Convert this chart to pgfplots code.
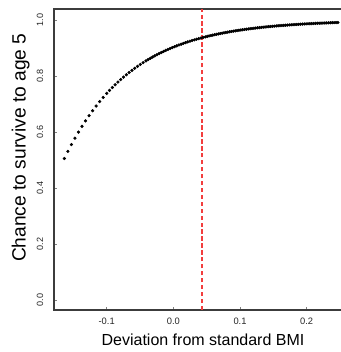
\documentclass[border=0pt]{standalone}
\usepackage{fontspec}
\setmainfont{Liberation Sans}
\usepackage{pgfplots}
\pgfplotsset{compat=1.18}
\definecolor{axgray}{RGB}{60,60,60}
\definecolor{dashred}{RGB}{242,62,62}
\begin{document}
\begin{tikzpicture}
\begin{axis}[
  scale only axis,
  width=223.5pt, height=225.75pt,
  xmin=-0.179, xmax=0.268,
  ymin=-0.035, ymax=1.04,
  axis line style={axgray, line width=0.8pt},
  tick align=inside,
  major tick length=2.4pt,
  tick style={gray, line width=0.5pt},
  xtick={-0.1,0,0.1,0.2},
  xticklabels={-0.1,0.0,0.1,0.2},
  ytick={0,0.2,0.4,0.6,0.8,1.0},
  yticklabels={0.0,0.2,0.4,0.6,0.8,1.0},
  xtick pos=bottom, ytick pos=left,
  /pgf/number format/assume math mode=true,
  xticklabel style={font=\fontsize{7}{8}\selectfont, anchor=center, yshift=-8.25pt, text=black!85},
  yticklabel style={font=\fontsize{6.8}{8}\selectfont, xshift=-10.5pt, rotate=90, anchor=center, text=black!85},
  every axis x label/.style={at={(axis description cs:0.5,0)}, anchor=center, yshift=-22.5pt, font=\fontsize{12}{14}\selectfont},
  every axis y label/.style={at={(axis description cs:0,0.539)}, xshift=-25pt, rotate=90, anchor=center, font=\fontsize{14.4}{16}\selectfont},
  xlabel={Deviation from standard BMI},
  ylabel={Chance to survive to age 5},
  clip=true,
]
\addplot[color=dashred, line width=1.25pt, dash pattern=on 3.2pt off 2pt] coordinates {(0.0426,-0.035) (0.0426,1.04)};
\addplot[only marks, mark=*, mark size=1.0pt, color=black] coordinates {
(-0.1635,0.5060) (-0.1582,0.5315) (-0.1529,0.5557) (-0.1476,0.5786) (-0.1423,0.6004)
(-0.1370,0.6210) (-0.1317,0.6406) (-0.1264,0.6591) (-0.1211,0.6767) (-0.1158,0.6934)
(-0.1105,0.7092) (-0.1052,0.7242) (-0.0999,0.7385)
(-0.0957,0.7492) (-0.0915,0.7595) (-0.0873,0.7694) (-0.0831,0.7789) (-0.0789,0.7880)
(-0.0747,0.7967) (-0.0705,0.8051) (-0.0663,0.8131) (-0.0621,0.8208) (-0.0579,0.8282)
(-0.0537,0.8352) (-0.0495,0.8420) (-0.0453,0.8485) (-0.0411,0.8547)
(-0.0378,0.8595) (-0.0345,0.8640) (-0.0312,0.8684) (-0.0279,0.8727) (-0.0246,0.8768)
(-0.0213,0.8808) (-0.0180,0.8847) (-0.0147,0.8884) (-0.0114,0.8921) (-0.0081,0.8956)
(-0.0048,0.8990) (-0.0015,0.9022) (0.0018,0.9054) (0.0051,0.9085) (0.0084,0.9115)
(0.0117,0.9143) (0.0150,0.9171) (0.0183,0.9198) (0.0216,0.9224) (0.0249,0.9249)
(0.0282,0.9274) (0.0315,0.9297) (0.0348,0.9320) (0.0381,0.9342) (0.0414,0.9363)
(0.0447,0.9384) (0.0480,0.9404)
(0.0508,0.9421) (0.0536,0.9437) (0.0564,0.9452) (0.0592,0.9467) (0.0620,0.9482)
(0.0648,0.9496) (0.0676,0.9510) (0.0704,0.9524) (0.0732,0.9537) (0.0760,0.9550)
(0.0788,0.9562) (0.0816,0.9574) (0.0844,0.9586) (0.0872,0.9597) (0.0900,0.9608)
(0.0928,0.9619) (0.0956,0.9630) (0.0984,0.9640) (0.1012,0.9650) (0.1040,0.9660)
(0.1068,0.9669) (0.1096,0.9678) (0.1124,0.9687) (0.1152,0.9696) (0.1180,0.9704)
(0.1208,0.9712) (0.1236,0.9720) (0.1264,0.9728) (0.1292,0.9735) (0.1320,0.9743)
(0.1348,0.9750) (0.1376,0.9757) (0.1404,0.9763) (0.1432,0.9770) (0.1460,0.9776)
(0.1488,0.9782) (0.1516,0.9788) (0.1544,0.9794) (0.1572,0.9800) (0.1600,0.9805)
(0.1628,0.9811) (0.1656,0.9816) (0.1684,0.9821) (0.1712,0.9826) (0.1740,0.9831)
(0.1768,0.9835) (0.1796,0.9840) (0.1824,0.9844) (0.1852,0.9849) (0.1880,0.9853)
(0.1908,0.9857) (0.1936,0.9861) (0.1964,0.9865) (0.1992,0.9868) (0.2020,0.9872)
(0.2048,0.9875) (0.2076,0.9879) (0.2104,0.9882) (0.2132,0.9885) (0.2160,0.9889)
(0.2188,0.9892) (0.2216,0.9895) (0.2244,0.9898) (0.2272,0.9900) (0.2300,0.9903)
(0.2328,0.9906) (0.2356,0.9908) (0.2384,0.9911) (0.2412,0.9913) (0.2440,0.9916)
(0.2468,0.9918)
};
\end{axis}
\pgfresetboundingbox
\path[use as bounding box] ([xshift=-40.5pt,yshift=-31.5pt]current axis.south west) rectangle ([xshift=215.25pt,yshift=232.5pt]current axis.south west);
\end{tikzpicture}
\end{document}
